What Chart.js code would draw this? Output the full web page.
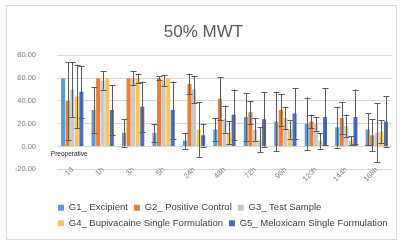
<!DOCTYPE html>
<html>
<head>
<meta charset="utf-8">
<script src="https://cdn.jsdelivr.net/npm/chart.js@4/dist/chart.umd.min.js"></script>
<style>
html,body{margin:0;padding:0;background:#fff;}
#wrap{width:404px;height:244px;position:relative;}
</style>
</head>
<body>
<div id="wrap"><canvas id="c" width="404" height="244"></canvas></div>
<script>
const categories = ['1d','1h','3h','5h','24h','48h','72h','96h','120h','144h','168h'];
const seriesNames = ['G1_ Excipient','G2_ Positive Control','G3_ Test Sample','G4_ Bupivacaine Single Formulation','G5_ Meloxicam Single Formulation'];
const g1 = [60, 32, 12, 12, 5, 15, 26, 22, 20, 17, 15];
const g1Err = [0, 20, 12, 8, 7, 10, 21, 26, 23, 18, 14];
const g2 = [40, 60, 60, 60, 55, 42, 30, 32, 22, 25, 10];
const g2Err = [34, 0, 0, 2, 9, 19, 10, 14, 6, 14, 14];
const g3 = [50, 58, 60, 58, 50, 24, 15, 25, 20, 18, 12];
const g3Err = [24, 8, 6, 5, 12, 12, 10, 10, 6, 10, 26];
const g4 = [44, 60, 60, 60, 15, 12, 6, 15, 5, 5, 13];
const g4Err = [28, 0, 4, 0, 24, 10, 11, 8, 7, 4, 10];
const g5 = [48, 32, 35, 32, 10, 28, 24, 29, 26, 26, 22];
const g5Err = [23, 22, 22, 25, 10, 22, 24, 22, 25, 24, 22];
const yTicks = [-20, 0, 20, 40, 60, 80];
const titleText = '50% MWT';
const noteText = 'Preoperative';

const colors = ['#5b9bd5','#ed7d31','#c8c8c8','#f6c65b','#4a6fc0'];
const values = [g1,g2,g3,g4,g5];
const errors = [g1Err,g2Err,g3Err,g4Err,g5Err];

const errorBars = {
  id: 'errorBars',
  afterDatasetsDraw(chart) {
    const ctx = chart.ctx, ys = chart.scales.y;
    ctx.save();
    ctx.strokeStyle = '#5a5a5a';
    ctx.lineWidth = 1;
    chart.data.datasets.forEach((ds, i) => {
      const meta = chart.getDatasetMeta(i);
      meta.data.forEach((bar, j) => {
        const e = ds.errors[j], v = ds.data[j];
        if (!e) return;
        const x = Math.round(bar.x) + 0.5;
        const t = ys.getPixelForValue(v + e), b = ys.getPixelForValue(v - e);
        ctx.beginPath();
        ctx.moveTo(x, t); ctx.lineTo(x, b);
        ctx.moveTo(x - 3, Math.round(t) + 0.5); ctx.lineTo(x + 3, Math.round(t) + 0.5);
        ctx.moveTo(x - 3, Math.round(b) + 0.5); ctx.lineTo(x + 3, Math.round(b) + 0.5);
        ctx.stroke();
      });
    });
    ctx.restore();
  }
};

const decor = {
  id: 'decor',
  beforeDraw(chart) {
    const ctx = chart.ctx;
    ctx.save();
    ctx.fillStyle = '#fff';
    ctx.fillRect(0, 0, chart.width, chart.height);
    ctx.strokeStyle = '#d9d9d9';
    ctx.lineWidth = 1;
    ctx.strokeRect(6.5, 5.5, 390, 234);
    ctx.restore();
  },
  afterLayout(chart) {
    const lg = chart.legend;
    const dx = 52 - lg.left;
    lg.left += dx; lg.right += dx;
  },
  afterDraw(chart) {
    const ctx = chart.ctx, xs = chart.scales.x, ys = chart.scales.y;
    ctx.save();
    ctx.font = '6.5px "Liberation Sans", Arial, sans-serif';
    ctx.fillStyle = '#222';
    ctx.textAlign = 'center';
    ctx.textBaseline = 'middle';
    ctx.fillText(noteText, xs.getPixelForValue(0) - 3, ys.getPixelForValue(0) + 8);
    ctx.restore();
  }
};

new Chart(document.getElementById('c'), {
  type: 'bar',
  data: {
    labels: categories,
    datasets: values.map((d, i) => ({
      label: seriesNames[i],
      data: d,
      errors: errors[i],
      backgroundColor: colors[i],
      borderWidth: 0,
      categoryPercentage: 0.75,
      barPercentage: 0.88
    }))
  },
  options: {
    responsive: false,
    animation: false,
    layout: { padding: { left: 15, right: 12, top: 12, bottom: 6 } },
    plugins: {
      title: {
        display: true, text: titleText, color: '#595959',
        font: { family: '"Liberation Sans", Arial, sans-serif', size: 17, weight: 'normal' },
        padding: { top: 10, bottom: 13 }
      },
      legend: {
        position: 'bottom', align: 'start',
        title: { display: true, text: '', font: { size: 1 }, padding: { top: 26.5, bottom: 0 } },
        labels: {
          boxWidth: 6, boxHeight: 6, padding: 6, color: '#404040',
          font: { family: '"Liberation Sans", Arial, sans-serif', size: 9.5 }
        }
      },
      tooltip: { enabled: false }
    },
    scales: {
      x: {
        position: { y: 0 },
        grid: { display: false },
        border: { display: false },
        ticks: {
          color: '#808080', maxRotation: 45, minRotation: 45, padding: 11,
          font: { family: '"Liberation Sans", Arial, sans-serif', size: 7.5 }
        }
      },
      y: {
        min: -20, max: 80,
        afterBuildTicks(axis) { axis.ticks = yTicks.map(v => ({ value: v })); },
        afterFit(axis) { axis.width = 42; },
        grid: { color: '#d9d9d9', drawTicks: false },
        border: { display: false },
        ticks: {
          color: '#808080', padding: 21,
          font: { family: '"Liberation Sans", Arial, sans-serif', size: 7.5 },
          callback: v => v.toFixed(2)
        }
      }
    }
  },
  plugins: [errorBars, decor]
});
</script>
</body>
</html>
